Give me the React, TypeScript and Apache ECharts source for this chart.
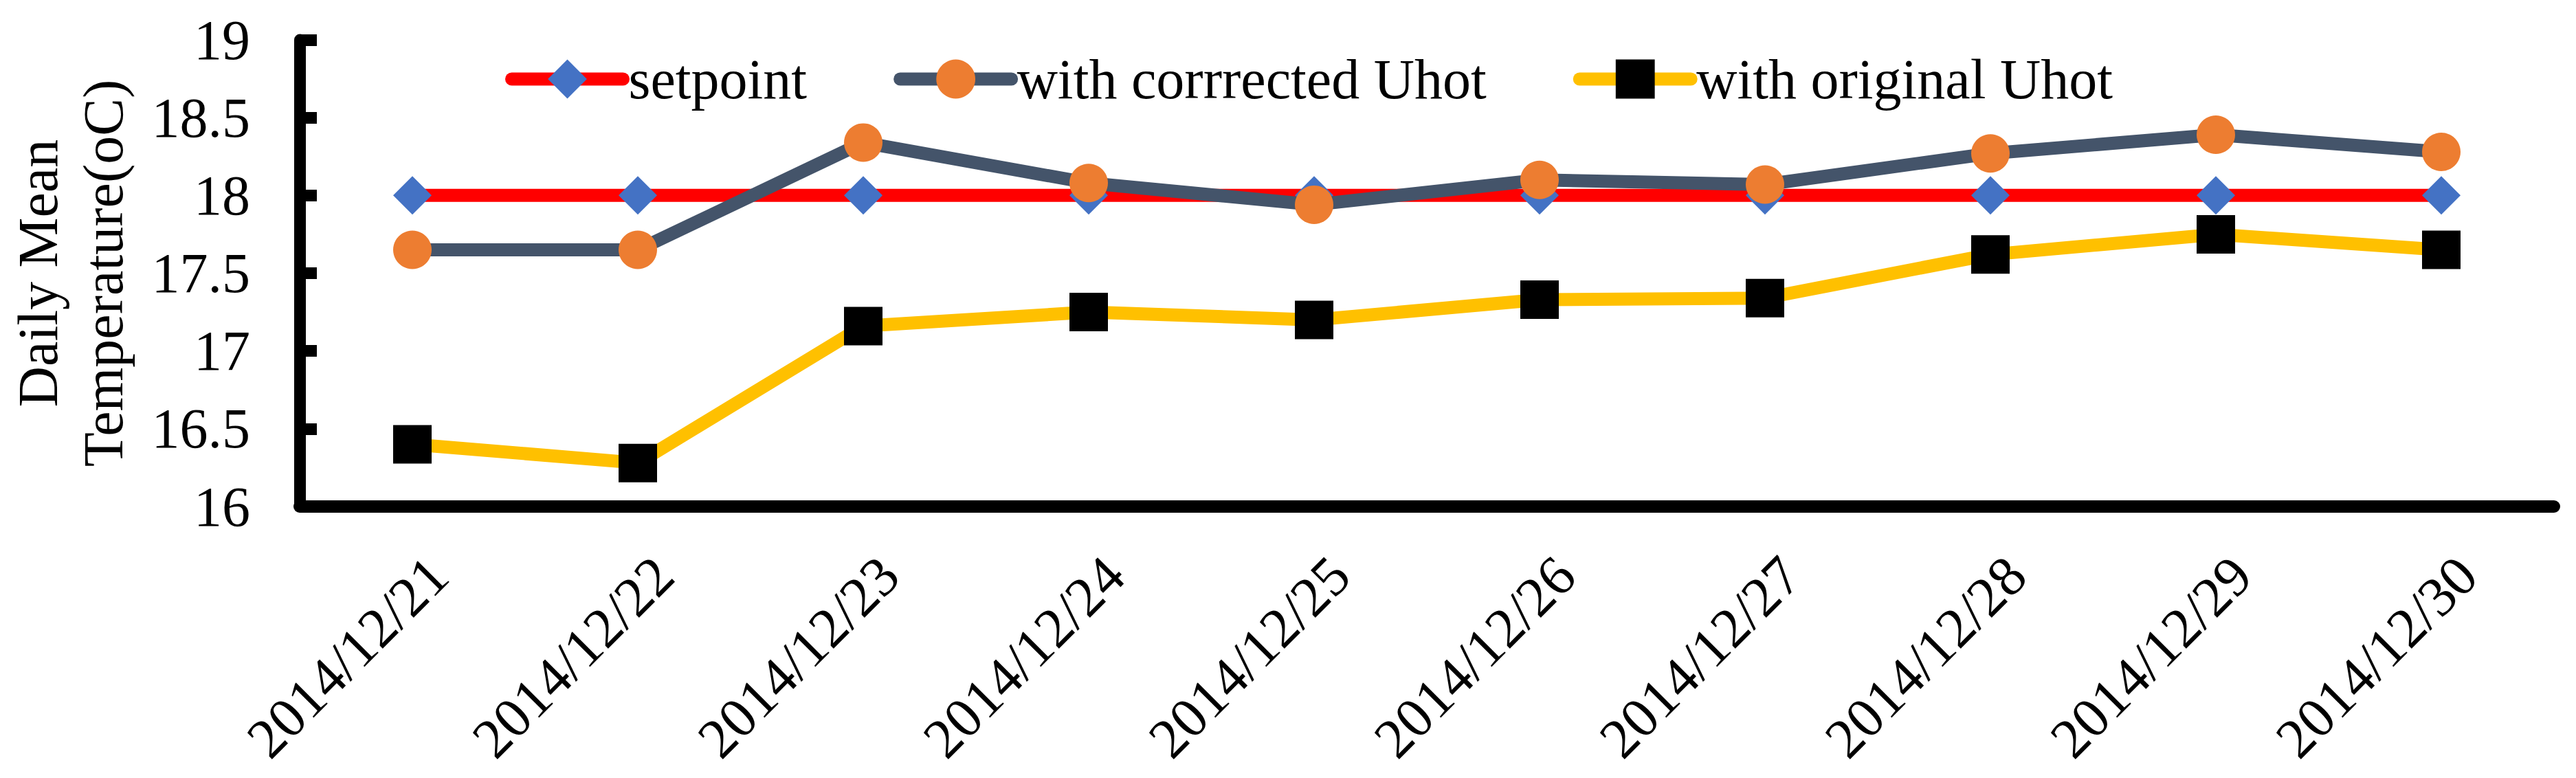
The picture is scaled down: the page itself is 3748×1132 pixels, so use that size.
import React, { useEffect, useRef } from "react";
import * as echarts from "echarts";

const categories = [
  "2014/12/21",
  "2014/12/22",
  "2014/12/23",
  "2014/12/24",
  "2014/12/25",
  "2014/12/26",
  "2014/12/27",
  "2014/12/28",
  "2014/12/29",
  "2014/12/30",
];
const setpoint = [18, 18, 18, 18, 18, 18, 18, 18, 18, 18];
const corrected = [17.65, 17.65, 18.34, 18.08, 17.94, 18.1, 18.07, 18.27, 18.39, 18.28];
const original = [16.4, 16.28, 17.16, 17.25, 17.2, 17.33, 17.34, 17.62, 17.75, 17.65];
const seriesNames = ["setpoint", "with corrrected Uhot", "with original Uhot"];
const yMin = 16;
const yMax = 19;
const yStep = 0.5;

const FONT = "Liberation Serif, Times New Roman, serif";

export default function App() {
  const ref = useRef<HTMLDivElement>(null);
  useEffect(() => {
    if (!ref.current) return;
    const chart = echarts.init(ref.current, null, { renderer: "svg" });
    const symbolSize = 56;
    const lineWidth = 19;
    chart.setOption({
      animation: false,
      backgroundColor: "#ffffff",
      textStyle: { fontFamily: FONT },
      grid: { left: 436, right: 32, top: 58, bottom: 395, containLabel: false },
      legend: {
        left: 735,
        top: 74,
        padding: 0,
        itemWidth: 162,
        itemHeight: 71,
        itemGap: 126,
        data: seriesNames,
        lineStyle: { cap: "round", width: lineWidth },
        textStyle: {
          fontFamily: FONT,
          fontSize: 82,
          color: "#000",
          padding: [0, 0, 0, 3],
        },
      },
      xAxis: {
        type: "category",
        data: categories,
        boundaryGap: true,
        axisLine: { lineStyle: { color: "#000", width: 18 } },
        axisTick: {
          inside: true,
          length: 25,
          lineStyle: { color: "#000", width: 17 },
        },
        axisLabel: {
          rotate: 45,
          margin: 49,
          verticalAlign: "top",
          lineHeight: 107,
          fontFamily: FONT,
          fontSize: 82,
          color: "#000",
          interval: 0,
        },
        splitLine: { show: false },
      },
      yAxis: {
        type: "value",
        min: yMin,
        max: yMax,
        interval: yStep,
        name: "Daily Mean\nTemperature(oC)",
        nameLocation: "middle",
        nameGap: 238,
        nameTextStyle: {
          fontFamily: FONT,
          fontSize: 82,
          lineHeight: 95,
          color: "#000",
        },
        axisLine: { show: true, lineStyle: { color: "#000", width: 17 } },
        axisTick: {
          show: true,
          inside: true,
          length: 25,
          lineStyle: { color: "#000", width: 17 },
        },
        axisLabel: {
          margin: 72,
          fontFamily: FONT,
          fontSize: 82,
          color: "#000",
        },
        splitLine: { show: false },
      },
      series: [
        {
          name: seriesNames[0],
          type: "line",
          data: setpoint,
          symbol: "diamond",
          symbolSize,
          z: 2,
          lineStyle: { color: "#FF0000", width: lineWidth },
          itemStyle: { color: "#4472C4", borderWidth: 0 },
        },
        {
          name: seriesNames[1],
          type: "line",
          data: corrected,
          symbol: "circle",
          symbolSize,
          z: 3,
          lineStyle: { color: "#44546A", width: lineWidth },
          itemStyle: { color: "#ED7D31", borderWidth: 0 },
        },
        {
          name: seriesNames[2],
          type: "line",
          data: original,
          symbol: "rect",
          symbolSize,
          z: 4,
          lineStyle: { color: "#FFC000", width: lineWidth },
          itemStyle: { color: "#000000", borderWidth: 0 },
        },
      ],
    });
    return () => chart.dispose();
  }, []);
  return (
    <div
      ref={ref}
      style={{ position: "fixed", left: 0, top: 0, width: 3748, height: 1132, background: "#fff" }}
    />
  );
}
